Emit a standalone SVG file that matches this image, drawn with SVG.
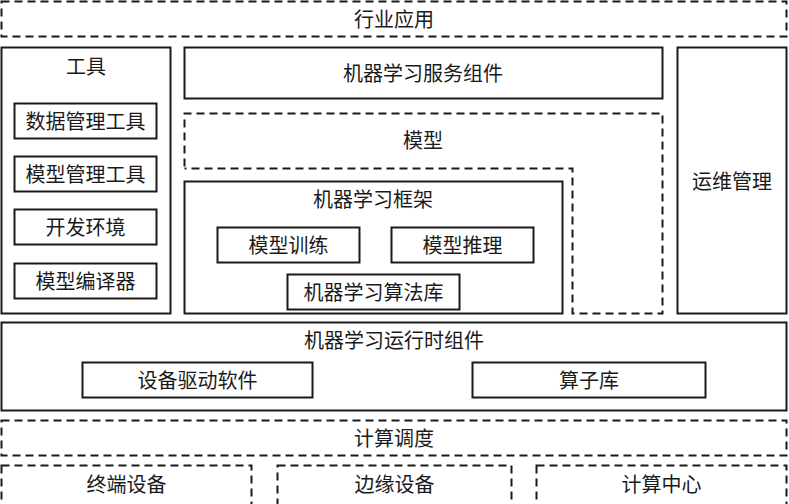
<svg xmlns="http://www.w3.org/2000/svg" width="789" height="504" viewBox="0 0 789 504">
<style>
.s{fill:none;stroke:#1a1a1a;stroke-width:2}
.d{fill:none;stroke:#1a1a1a;stroke-width:2;stroke-dasharray:8 5}
text{font-family:"Noto Sans CJK SC","Noto Sans",sans-serif;font-size:20px;fill:#1a1a1a;text-anchor:middle;dominant-baseline:central}
</style>
<rect width="789" height="504" fill="#fff"/>
<g id="industry"><rect class="d" x="1.5" y="1.5" width="785" height="35"/><text x="394" y="18">行业应用</text></g>
<g id="tools"><rect class="s" x="1.5" y="47.5" width="169" height="266"/><text x="86" y="65">工具</text></g>
<g id="data-tool"><rect class="s" x="14.5" y="103.5" width="142" height="35"/><text x="85.5" y="120">数据管理工具</text></g>
<g id="model-tool"><rect class="s" x="14.5" y="156.5" width="142" height="35"/><text x="85.5" y="173">模型管理工具</text></g>
<g id="dev-env"><rect class="s" x="14.5" y="209.5" width="142" height="35"/><text x="85.5" y="226">开发环境</text></g>
<g id="compiler"><rect class="s" x="14.5" y="263.5" width="142" height="35"/><text x="85.5" y="280">模型编译器</text></g>
<g id="ml-service"><rect class="s" x="184.5" y="47.5" width="478" height="51"/><text x="423" y="72">机器学习服务组件</text></g>
<g id="model"><path class="d" d="M184.5 166.5 V113.5 H662.5 V313.5 H572.5 V168.5 H184.5"/><text x="423" y="139">模型</text></g>
<g id="ml-framework"><rect class="s" x="184.5" y="181.5" width="378" height="132"/><text x="373" y="198">机器学习框架</text></g>
<g id="train"><rect class="s" x="217.5" y="227.5" width="142" height="35"/><text x="288.5" y="244">模型训练</text></g>
<g id="infer"><rect class="s" x="391.5" y="227.5" width="142" height="35"/><text x="462.5" y="244">模型推理</text></g>
<g id="algo-lib"><rect class="s" x="287.5" y="274.5" width="172" height="35"/><text x="373.5" y="291">机器学习算法库</text></g>
<g id="ops"><rect class="s" x="677.5" y="47.5" width="109" height="266"/><text x="732" y="180">运维管理</text></g>
<g id="runtime"><rect class="s" x="1.5" y="322.5" width="785" height="88"/><text x="394" y="339">机器学习运行时组件</text></g>
<g id="driver"><rect class="s" x="82.5" y="362.5" width="230" height="35"/><text x="197.5" y="379">设备驱动软件</text></g>
<g id="op-lib"><rect class="s" x="472.5" y="362.5" width="233" height="35"/><text x="589" y="379">算子库</text></g>
<g id="scheduling"><rect class="d" x="1.5" y="420.5" width="785" height="35"/><text x="394" y="437">计算调度</text></g>
<g id="terminal"><rect class="d" x="1.5" y="465.5" width="250" height="40"/><text x="126.5" y="483">终端设备</text></g>
<g id="edge"><rect class="d" x="277.5" y="465.5" width="234" height="40"/><text x="394.5" y="483">边缘设备</text></g>
<g id="center"><rect class="d" x="536.5" y="465.5" width="250" height="40"/><text x="661.5" y="483">计算中心</text></g>
<g id="connectors"></g>
</svg>
